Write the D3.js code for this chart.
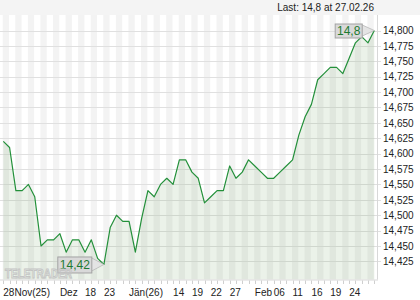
<!DOCTYPE html>
<html><head><meta charset="utf-8">
<script src="https://cdn.jsdelivr.net/npm/d3@7"></script>
<style>html,body{margin:0;padding:0;background:#fff;}svg{display:block;font-family:"Liberation Sans",Arial,sans-serif;}</style>
</head><body>
<svg id="c" width="420" height="300"></svg>
<script>
// Price series (one value per trading day, 28 Nov 2025 - 27 Feb 2026)
const prices = [14.62,14.61,14.54,14.54,14.55,14.53,14.45,14.46,14.46,14.47,
  14.44,14.46,14.46,14.44,14.46,14.43,14.42,14.48,14.50,14.49,
  14.49,14.44,14.495,14.54,14.53,14.55,14.56,14.55,14.59,14.59,
  14.57,14.56,14.52,14.53,14.54,14.54,14.58,14.56,14.57,14.59,
  14.58,14.57,14.56,14.56,14.57,14.58,14.59,14.63,14.66,14.68,
  14.72,14.73,14.74,14.74,14.73,14.755,14.78,14.79,14.78,14.80];
// x-axis labels and the trading-day index where each one sits
const xTickLabels = ["28Nov(25)","Dez","18","23","Jän(26)","14","19","22","27","Feb","06","11","16","19","24"];
const xTickIndex  = [0,9,13,16,20,27,30,33,36,40,43,46,49,52,55];
// y-axis ticks
const yTicks = [14.425,14.45,14.475,14.5,14.525,14.55,14.575,14.6,14.625,14.65,14.675,14.7,14.725,14.75,14.775,14.8];
const lastText = "Last: 14,8 at 27.02.26";
const highLabel = "14,8";
const lowLabel = "14,42";

const svg = d3.select("#c");
const plot = {left:0, right:377, top:15, bottom:279.5};
const idx = d3.range(prices.length);
const x = d3.scalePoint().domain(idx).range([3.3, 374.3]);
const y = d3.scaleLinear().domain([14.425, 14.8]).range([261.4, 30.5]);
const loc = d3.formatLocale({decimal:",", thousands:".", grouping:[3], currency:["",""]});
const f3 = loc.format(".3f");

// header band
svg.append("rect").attr("x",0).attr("y",0).attr("width",420).attr("height",plot.top).attr("fill","#f4f4f4");
svg.append("text").attr("x",374).attr("y",11).attr("text-anchor","end")
  .attr("font-size",10).attr("fill","#222").text(lastText);

// vertical stripes (one per day)
const step = x.step();
svg.append("g").selectAll("rect").data(idx.filter(i => i % 2 === 0 && i < prices.length-1)).join("rect")
  .attr("x", i => x(i) - 0.6).attr("y", plot.top)
  .attr("width", step).attr("height", plot.bottom - plot.top)
  .attr("fill","#f3f3f3");

// horizontal grid
svg.append("g").selectAll("line").data(yTicks).join("line")
  .attr("x1",0).attr("x2",381).attr("y1",d=>Math.round(y(d))+0.5).attr("y2",d=>Math.round(y(d))+0.5)
  .attr("stroke","#e0e0e0").attr("stroke-width",1);

// area + line
const area = d3.area().x((d,i)=>x(i)).y0(plot.bottom).y1(d=>y(d));
svg.append("path").datum(prices).attr("d",area).attr("fill","rgb(120,170,110)").attr("fill-opacity",0.15);
const line = d3.line().x((d,i)=>x(i)).y(d=>y(d));
svg.append("path").datum(prices).attr("d",line).attr("fill","none")
  .attr("stroke","#23903a").attr("stroke-width",1.2).attr("stroke-linejoin","round");

// plot border (right & bottom)
svg.append("line").attr("x1",plot.right+0.5).attr("x2",plot.right+0.5).attr("y1",plot.top).attr("y2",plot.bottom)
  .attr("stroke","#d8d8d8");
svg.append("line").attr("x1",0).attr("x2",plot.right+1).attr("y1",plot.bottom+0.5).attr("y2",plot.bottom+0.5)
  .attr("stroke","#d8d8d8");

// x tick marks (every day)
svg.append("g").selectAll("line").data(idx).join("line")
  .attr("x1",i=>Math.round(x(i))+0.5).attr("x2",i=>Math.round(x(i))+0.5)
  .attr("y1",plot.bottom+1).attr("y2",plot.bottom+4.5).attr("stroke","#cfcfcf");

// x labels
svg.append("g").selectAll("text").data(xTickLabels).join("text")
  .attr("x",(d,k)=>x(xTickIndex[k])).attr("y",295.5)
  .attr("font-size",10).attr("fill","#222").text(d=>d);

// y labels
svg.append("g").selectAll("text").data(yTicks).join("text")
  .attr("x",383).attr("y",d=>y(d)+3.8)
  .attr("font-size",10).attr("fill","#222").text(d=>f3(d));

// value callouts
function callout(i, txt, w, h){
  const px = x(i), py = y(prices[i]);
  const bx = px - 12.6 - w, by = py - h/2;
  svg.append("polygon")
    .attr("points",[[bx+w-0.5,by+1],[px,py],[bx+w-0.5,by+h-1]].map(p=>p.join(",")).join(" "))
    .attr("fill","#e4e4e4").attr("stroke","#b8b8b8").attr("stroke-width",0.8);
  svg.append("rect").attr("x",bx+0.5).attr("y",by+0.5).attr("width",w).attr("height",h)
    .attr("fill","#d9d9d9").attr("stroke","#a3a3a3");
  svg.append("text").attr("x",bx+w/2+0.5).attr("y",by+h/2+4.5).attr("text-anchor","middle")
    .attr("font-size",12).attr("fill","#1d7a30").text(txt);
}
callout(prices.length-1, highLabel, 27, 14);
callout(prices.indexOf(d3.min(prices)), lowLabel, 34, 16);

// logo (drawn on top, as in the reference)
svg.append("text").attr("x",5).attr("y",277.5).attr("font-size",12).attr("font-weight","bold")
  .attr("textLength",67).attr("lengthAdjust","spacingAndGlyphs")
  .attr("fill","none").attr("stroke","#c4c4c4").attr("stroke-width",0.9).text("TELETRADER");
</script>
</body></html>
